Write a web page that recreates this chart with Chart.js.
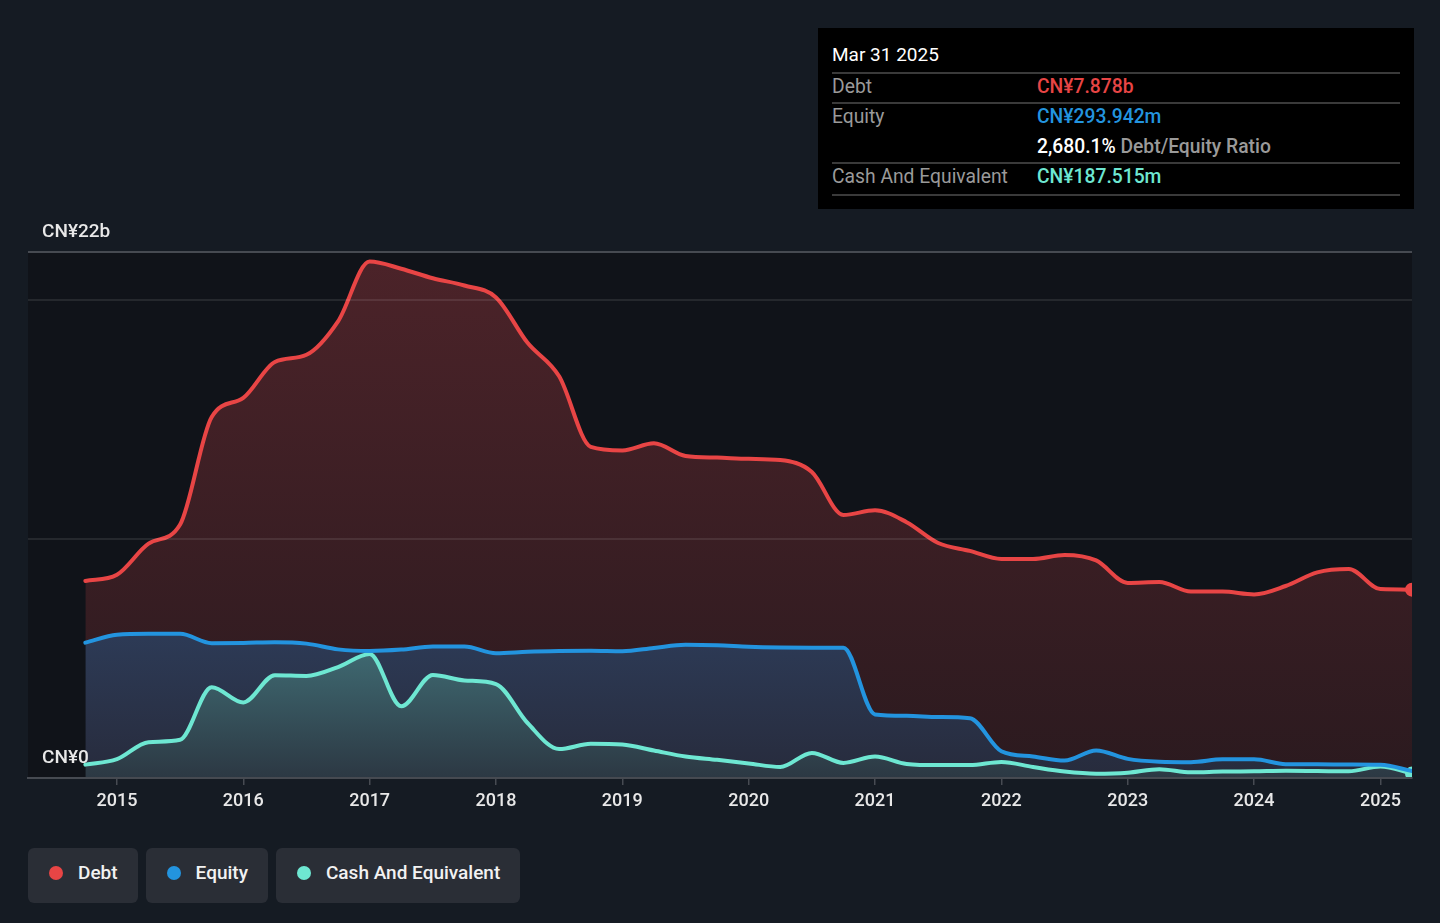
<!DOCTYPE html>
<html>
<head>
<meta charset="utf-8">
<script src="https://cdn.jsdelivr.net/npm/chart.js@4.4.1/dist/chart.umd.min.js"></script>
<style>
  html, body { margin: 0; padding: 0; width: 1440px; height: 923px; overflow: hidden; background: #151b23; font-family: Roboto, "Noto Sans", sans-serif; }
  .chart-wrap { position: absolute; left: 0; top: 0; width: 1440px; height: 830px; }
  .info { position: absolute; left: 818px; top: 28px; width: 596px; height: 181px; background: #000; }
  .info div { position: absolute; white-space: nowrap; }
  .info .title { left: 14px; top: 12px; line-height: 30px; font-size: 19px; color: #fff; }
  .info .row { left: 14px; height: 30px; line-height: 29px; font-size: 19.3px; width: 568px; }
  .info .lbl { left: 0; color: #9a9a9a; }
  .info .val { left: 205px; font-weight: 500; }
  .info .hr { left: 14px; width: 568px; height: 2px; background: #3a3a3a; }
  .legend { position: absolute; left: 28px; top: 848px; display: flex; gap: 8px; }
  .legend .item { box-sizing: border-box; height: 55px; display: flex; align-items: center; padding: 0 20px 6px 21px; background: #2a2e36; border-radius: 6px; color: #f2f2f2; font-size: 19px; font-weight: 500; }
  .legend .dot { width: 14px; height: 14px; border-radius: 50%; margin-right: 15px; }
</style>
</head>
<body>
<div class="chart-wrap"><canvas id="chart" width="1440" height="830"></canvas></div>

<div class="info">
  <div class="title">Mar 31 2025</div>
  <div class="hr" style="top:44px"></div>
  <div class="row" style="top:44px"><div class="lbl">Debt</div><div class="val" style="color:#e84545">CN¥7.878b</div></div>
  <div class="hr" style="top:74px"></div>
  <div class="row" style="top:74px"><div class="lbl">Equity</div><div class="val" style="color:#2394df">CN¥293.942m</div></div>
  <div class="row" style="top:104px"><div class="val" style="color:#fff">2,680.1% <span style="color:#9a9a9a">Debt/Equity Ratio</span></div></div>
  <div class="hr" style="top:134px"></div>
  <div class="row" style="top:134px"><div class="lbl">Cash And Equivalent</div><div class="val" style="color:#6ee7d2">CN¥187.515m</div></div>
  <div class="hr" style="top:166px"></div>
</div>

<div class="legend">
  <div class="item"><span class="dot" style="background:#e84545"></span>Debt</div>
  <div class="item"><span class="dot" style="background:#2394df"></span>Equity</div>
  <div class="item"><span class="dot" style="background:#6ee7d2"></span>Cash And Equivalent</div>
</div>

<script>
// quarter ends, Sep 2014 .. Mar 2025
const quarters = [
  'Sep 2014', 'Dec 2014', 'Mar 2015', 'Jun 2015', 'Sep 2015', 'Dec 2015',
  'Mar 2016', 'Jun 2016', 'Sep 2016', 'Dec 2016', 'Mar 2017', 'Jun 2017',
  'Sep 2017', 'Dec 2017', 'Mar 2018', 'Jun 2018', 'Sep 2018', 'Dec 2018',
  'Mar 2019', 'Jun 2019', 'Sep 2019', 'Dec 2019', 'Mar 2020', 'Jun 2020',
  'Sep 2020', 'Dec 2020', 'Mar 2021', 'Jun 2021', 'Sep 2021', 'Dec 2021',
  'Mar 2022', 'Jun 2022', 'Sep 2022', 'Dec 2022', 'Mar 2023', 'Jun 2023',
  'Sep 2023', 'Dec 2023', 'Mar 2024', 'Jun 2024', 'Sep 2024', 'Dec 2024',
  'Mar 2025'
];

// CN¥ billions
const debt = [
  8.24, 8.5, 9.8, 10.6, 15.1, 15.9,
  17.4, 17.7, 19.1, 21.6, 21.3, 20.9,
  20.6, 20.1, 18.2, 16.8, 13.85, 13.7,
  14.0, 13.47, 13.4, 13.35, 13.3, 12.8,
  11.0, 11.2, 10.7, 9.83, 9.5, 9.16,
  9.16, 9.33, 9.1, 8.16, 8.2, 7.8,
  7.8, 7.68, 8.03, 8.6, 8.74, 7.9,
  7.878
];
const equity = [
  5.66, 5.99, 6.03, 6.03, 5.64, 5.65,
  5.68, 5.62, 5.38, 5.31, 5.37, 5.5,
  5.5, 5.22, 5.28, 5.31, 5.32, 5.3,
  5.44, 5.57, 5.55, 5.49, 5.46, 5.45,
  5.45, 2.66, 2.6, 2.55, 2.5, 1.12,
  0.9, 0.73, 1.15, 0.8, 0.68, 0.66,
  0.78, 0.78, 0.58, 0.57, 0.56, 0.55,
  0.294
];
const cash = [
  0.56, 0.79, 1.5, 1.6, 3.8, 3.16,
  4.3, 4.27, 4.64, 5.19, 3.0, 4.31,
  4.08, 3.93, 2.3, 1.21, 1.43, 1.4,
  1.15, 0.9, 0.76, 0.61, 0.46, 1.05,
  0.63, 0.9, 0.59, 0.54, 0.54, 0.67,
  0.46, 0.27, 0.18, 0.22, 0.37, 0.24,
  0.27, 0.28, 0.3, 0.29, 0.28, 0.48,
  0.1875
];

const tickYears = [2015, 2016, 2017, 2018, 2019, 2020, 2021, 2022, 2023, 2024, 2025];
const yTicks = [0, 10, 20, 22];
const yLabels = { 0: 'CN¥0', 22: 'CN¥22b' };

const monthNum = { Mar: 3, Jun: 6, Sep: 9, Dec: 12 };
function toYear(q) {
  const [m, y] = q.split(' ');
  return Number(y) + monthNum[m] / 12;
}
function points(values) {
  return quarters.map((q, i) => ({ x: toYear(q), y: values[i] }));
}

// vertical gradient between two values on the y scale
function gradient(top, c1, c2) {
  return function (context) {
    const chart = context.chart;
    const area = chart.chartArea;
    if (!area) return c1;
    const yTop = chart.scales.y.getPixelForValue(top);
    const g = chart.ctx.createLinearGradient(0, yTop, 0, area.bottom);
    g.addColorStop(0, c1);
    g.addColorStop(1, c2);
    return g;
  };
}

const last = quarters.length - 1;
const endDot = (ctx) => ctx.dataIndex === last ? 6 : 0;

//plot area background
const plotBg = {
  id: 'plotBg',
  beforeDraw(chart) {
    const { ctx, chartArea: a } = chart;
    ctx.save();
    ctx.fillStyle = '#101319';
    ctx.fillRect(a.left, a.top, a.right - a.left, a.bottom - a.top);
    ctx.restore();
  }
};

const ctx = document.getElementById('chart').getContext('2d');

const chart = new Chart(ctx, {
  type: 'line',
  data: {
    datasets: [{
      label: 'Debt',
      data: points(debt),
      borderColor: '#e84545',
      backgroundColor: gradient(22, '#4c2329', '#2b1a1f'),
      fill: 1,
      pointRadius: endDot,
      pointBackgroundColor: '#e84545'
    },
    {
      label: 'Equity',
      data: points(equity),
      borderColor: '#2394df',
      backgroundColor: gradient(6.2, '#2d3b57', '#272b3c'),
      fill: 2,
      pointRadius: 0
    },
    {
      label: 'Cash And Equivalent',
      data: points(cash),
      borderColor: '#6ee7d2',
      backgroundColor: gradient(5.4, '#3f6a72', '#2c3843'),
      fill: 'origin',
      pointRadius: endDot,
      pointBackgroundColor: '#6ee7d2'
    }]
  },
  options: {
    responsive: false,
    animation: false,
    events: [],
    devicePixelRatio: 1,
    layout: { padding: { left: 28, right: 28, top: 252, bottom: 12 } },
    elements: {
      line: { borderWidth: 4, cubicInterpolationMode: 'monotone', borderCapStyle: 'round', borderJoinStyle: 'round' },
      point: { borderColor: '#ffffff', borderWidth: 2 }
    },
    plugins: {
      legend: { display: false },
      tooltip: { enabled: false },
      filler: { drawTime: 'beforeDatasetsDraw' }
    },
    scales: {
      x: {
        type: 'linear',
        min: 2014.296,
        max: 2025.25,
        afterBuildTicks: (axis) => { axis.ticks = tickYears.map(v => ({ value: v })); },
        afterFit: (axis) => { axis.height = 40; },
        ticks: {
          color: '#e8e8e8',
          font: { family: 'Roboto', size: 18, weight: '500' },
          padding: 6,
          maxRotation: 0,
          autoSkip: false,
          callback: (v) => String(v)
        },
        grid: { drawOnChartArea: false, drawTicks: true, tickLength: 7, color: '#474b52', lineWidth: 1.5 },
        border: { display: true, color: '#474b52', width: 2 }
      },
      y: {
        type: 'linear',
        min: 0,
        max: 22,
        afterBuildTicks: (axis) => { axis.ticks = yTicks.map(v => ({ value: v })); },
        afterFit: (axis) => { axis.width = 0; },
        ticks: {
          z: 2,
          mirror: true,
          padding: 14,
          labelOffset: -20,
          color: '#e8e8e8',
          font: { family: 'Roboto', size: 19, weight: '500' },
          callback: (v) => yLabels[v] || ''
        },
        grid: {
          z: 1,
          drawTicks: false,
          color: (c) => (c.tick && (c.tick.value === 22 || c.tick.value === 0)) ? '#464a51' : 'rgba(255,255,255,0.09)',
          lineWidth: 2
        },
        border: { display: false }
      }
    }
  },
  plugins: [plotBg]
});
</script>
</body>
</html>
